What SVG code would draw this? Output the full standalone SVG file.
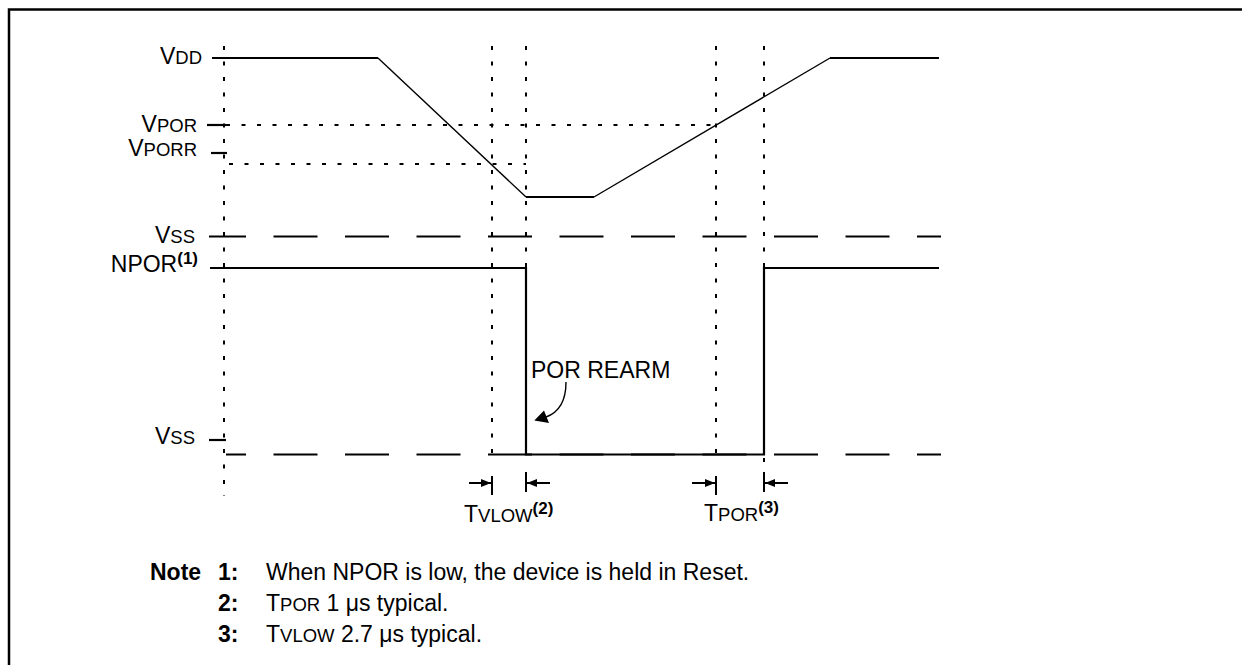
<svg xmlns="http://www.w3.org/2000/svg" width="1242" height="665" viewBox="0 0 1242 665">
<defs>
<style>
.t{font-family:"Liberation Sans",Arial,sans-serif;font-size:23px;fill:#000}
.sc{font-size:18.5px}
.b{font-weight:bold}
.sup{font-size:17px;font-weight:bold}
.frame{stroke:#000;stroke-width:2.5;fill:none}
.solid{stroke:#000;stroke-width:2.2;fill:none}
.thin{stroke:#000;stroke-width:1.4;fill:none}
.dot{stroke:#000;stroke-width:2;stroke-dasharray:4 11.5;fill:none}
.dash{stroke:#000;stroke-width:2.2;stroke-dasharray:44 27.5;fill:none}
.dim{stroke:#000;stroke-width:2;fill:none}
</style>
<marker id="ah" viewBox="0 0 10 8" refX="10" refY="4" markerWidth="10" markerHeight="8" markerUnits="userSpaceOnUse" orient="auto"><path d="M0,0 L10,4 L0,8 z" fill="#000"/></marker>
</defs>
<rect width="1242" height="665" fill="#fff"/>
<path id="frame" class="frame" d="M9,665 V9.5 H1242"/>

<g id="guides">
<path class="dot" d="M224,46 V496"/>
<path class="dot" d="M492,46 V462"/>
<path class="dot" d="M526,46 V268"/>
<path class="dot" d="M716,46 V462"/>
<path class="dot" d="M764,46 V268"/>
<path class="dot" d="M764,458 V466"/>
<path class="dot" d="M226,125 H716"/>
<path class="dot" d="M229,164 H526"/>
</g>

<g id="ticks">
<path class="solid" d="M207,125 H226"/>
<path class="solid" d="M211,153 H227"/>
<path class="solid" d="M209,440 H226"/>
</g>

<g id="vdd-signal">
<path class="solid" d="M212,58 H378"/>
<path class="thin" d="M378,58 L526,197"/>
<path class="solid" d="M526,197 H594"/>
<path class="thin" d="M594,197 L830,58"/>
<path class="solid" d="M830,58 H939"/>
</g>

<g id="vss-lines">
<path class="dash" d="M209,236.5 H941" stroke-dashoffset="7"/>
<path class="dash" d="M226,454.5 H941" stroke-dashoffset="24"/>
</g>

<g id="npor-signal">
<path class="solid" d="M210,268 H526 V454.5 H764 V268 H939"/>
</g>

<g id="connectors">
<path class="dim" d="M492,476 V495"/>
<path class="dim" d="M526,472 V492"/>
<path class="dim" d="M716,476 V495"/>
<path class="dim" d="M764,472 V492"/>
<path class="dim" d="M469,483 H491" marker-end="url(#ah)"/>
<path class="dim" d="M550,483 H527" marker-end="url(#ah)"/>
<path class="dim" d="M692,483 H715" marker-end="url(#ah)"/>
<path class="dim" d="M788,483 H765" marker-end="url(#ah)"/>
<path class="thin" d="M566,382 C566,400 560,412 546,417"/>
<polygon points="534.3,420.5 544,410.5 549,423" fill="#000"/>
</g>

<g id="labels" class="t">
<text x="202" y="64" text-anchor="end">V<tspan class="sc">DD</tspan></text>
<text x="197" y="132" text-anchor="end">V<tspan class="sc">POR</tspan></text>
<text x="197" y="156" text-anchor="end">V<tspan class="sc">PORR</tspan></text>
<text x="195" y="243" text-anchor="end">V<tspan class="sc">SS</tspan></text>
<text x="198" y="272" text-anchor="end">NPOR<tspan class="sup" dy="-8">(1)</tspan></text>
<text x="195" y="444" text-anchor="end">V<tspan class="sc">SS</tspan></text>
<text x="531" y="378">POR REARM</text>
<text x="464" y="522">T<tspan class="sc">VLOW</tspan><tspan class="sup" dy="-8">(2)</tspan></text>
<text x="704" y="521">T<tspan class="sc">POR</tspan><tspan class="sup" dy="-8">(3)</tspan></text>
</g>

<g id="notes" class="t">
<text x="150" y="580" class="b">Note</text>
<text x="218" y="580" class="b">1:</text>
<text x="266" y="580">When NPOR is low, the device is held in Reset.</text>
<text x="218" y="611" class="b">2:</text>
<text x="266" y="611">T<tspan class="sc">POR</tspan> 1 μs typical.</text>
<text x="218" y="642" class="b">3:</text>
<text x="266" y="642">T<tspan class="sc">VLOW</tspan> 2.7 μs typical.</text>
</g>
</svg>
